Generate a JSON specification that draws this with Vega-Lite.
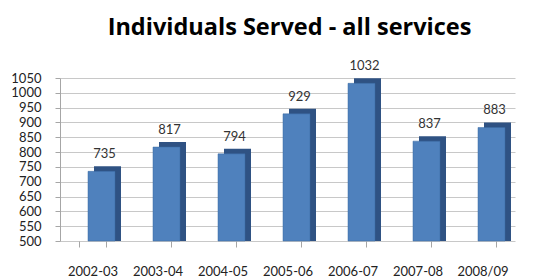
{
  "$schema": "https://vega.github.io/schema/vega-lite/v6.json",
  "width": 465,
  "height": 163,
  "autosize": "none",
  "padding": {"left": 60, "top": 78, "right": 12, "bottom": 37},
  "background": "white",
  "title": {
    "text": "Individuals Served - all services",
    "font": "Open Sans",
    "fontSize": 23.5,
    "fontWeight": "bold",
    "color": "#000000",
    "anchor": "middle",
    "dx": -3,
    "offset": 21
  },
  "data": {
    "values": [
      {"year": "2002-03", "served": 735},
      {"year": "2003-04", "served": 817},
      {"year": "2004-05", "served": 794},
      {"year": "2005-06", "served": 929},
      {"year": "2006-07", "served": 1032},
      {"year": "2007-08", "served": 837},
      {"year": "2008/09", "served": 883}
    ]
  },
  "encoding": {
    "x": {
      "field": "year",
      "type": "nominal",
      "sort": null,
      "scale": {"range": [0, 455], "paddingInner": 0.58, "paddingOuter": 0.29},
      "axis": {
        "title": null,
        "labelAngle": 0,
        "labelFont": "Lato",
        "labelFontSize": 13,
        "labelColor": "#222222",
        "labelPadding": 18,
        "domain": false,
        "ticks": true,
        "tickBand": "extent",
        "tickColor": "#A6A6A6",
        "tickSize": 6,
        "grid": false
      }
    },
    "y": {
      "field": "served",
      "type": "quantitative",
      "scale": {"domain": [500, 1050], "nice": false, "zero": false},
      "axis": {
        "title": null,
        "values": [500, 550, 600, 650, 700, 750, 800, 850, 900, 950, 1000, 1050],
        "format": "d",
        "labelFont": "Lato",
        "labelFontSize": 13,
        "labelColor": "#222222",
        "labelPadding": 14,
        "domain": true,
        "domainColor": "#A6A6A6",
        "tickColor": "#A6A6A6",
        "tickSize": 5,
        "grid": true,
        "gridColor": "#C8C8C8",
        "gridWidth": 1
      }
    }
  },
  "layer": [
    {
      "mark": {"type": "bar", "color": "#2F5283", "xOffset": 15, "yOffset": -5, "width": 27},
      "encoding": {"y2": {"datum": 500}}
    },
    {
      "mark": {"type": "bar", "color": "#4F81BD", "xOffset": 9, "width": 27, "stroke": "#3A6AA3", "strokeWidth": 0.5},
      "encoding": {"y2": {"datum": 500}}
    },
    {
      "mark": {"type": "text", "xOffset": 12, "dy": -17, "font": "Lato", "fontSize": 13, "color": "#333333"},
      "encoding": {"text": {"field": "served", "type": "quantitative"}}
    }
  ],
  "config": {"view": {"stroke": null}}
}
